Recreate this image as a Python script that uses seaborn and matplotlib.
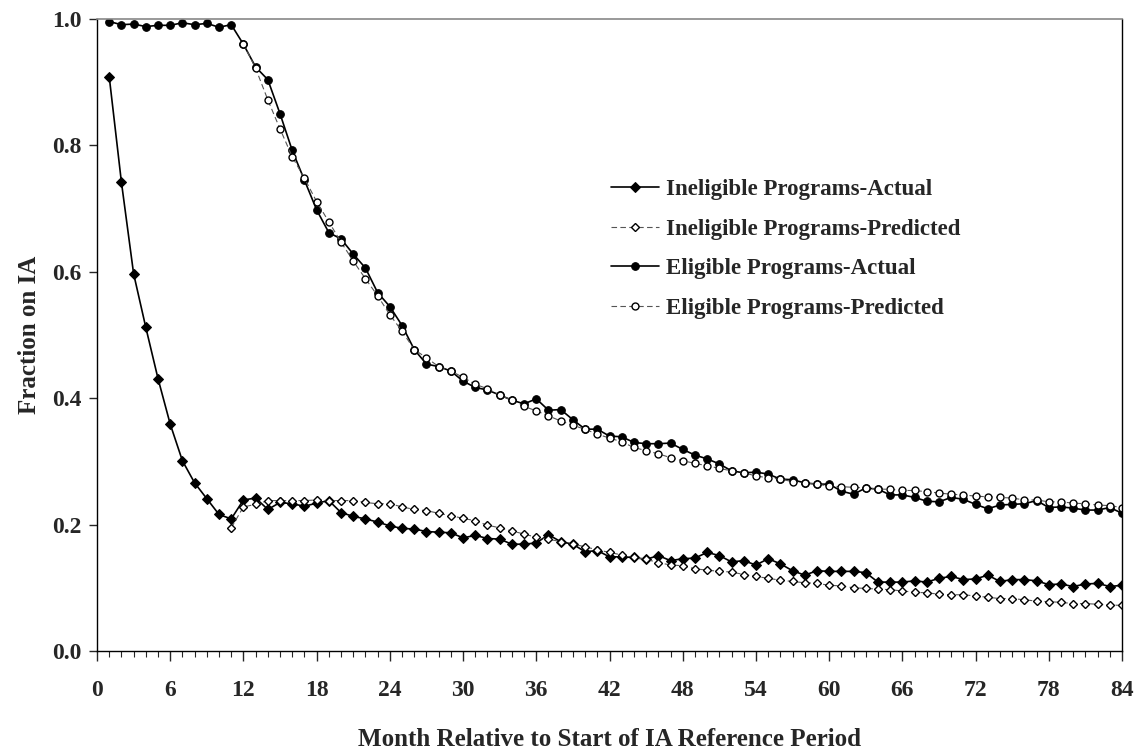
import numpy as np
import pandas as pd
import matplotlib
matplotlib.use("Agg")
import matplotlib.pyplot as plt
from matplotlib.ticker import MultipleLocator, FormatStrFormatter
import seaborn as sns

# values
months_all = list(range(1, 85))

inel_actual = [0.909, 0.742, 0.597, 0.512, 0.431, 0.359, 0.301, 0.266, 0.241, 0.216,
               0.209, 0.239, 0.242, 0.224, 0.235, 0.233, 0.229, 0.234, 0.238, 0.219,
               0.213, 0.209, 0.204, 0.198, 0.194, 0.193, 0.189, 0.188, 0.187, 0.179,
               0.183, 0.178, 0.177, 0.169, 0.169, 0.171, 0.184, 0.173, 0.169, 0.157,
               0.159, 0.149, 0.149, 0.148, 0.145, 0.151, 0.143, 0.146, 0.147, 0.156,
               0.151, 0.141, 0.143, 0.136, 0.146, 0.138, 0.127, 0.120, 0.127, 0.126,
               0.126, 0.126, 0.124, 0.109, 0.109, 0.109, 0.111, 0.109, 0.115, 0.118,
               0.113, 0.114, 0.120, 0.110, 0.113, 0.113, 0.111, 0.105, 0.106, 0.102,
               0.106, 0.107, 0.102, 0.104]

months_inel_pred = list(range(11, 85))
inel_pred = [0.195, 0.228, 0.232, 0.238, 0.238, 0.238, 0.238, 0.239, 0.238, 0.238,
             0.238, 0.235, 0.233, 0.233, 0.228, 0.224, 0.222, 0.218, 0.214, 0.210,
             0.206, 0.199, 0.195, 0.190, 0.185, 0.180, 0.177, 0.173, 0.169, 0.165,
             0.160, 0.156, 0.152, 0.148, 0.145, 0.140, 0.136, 0.135, 0.130, 0.128,
             0.126, 0.125, 0.121, 0.118, 0.115, 0.112, 0.110, 0.108, 0.107, 0.104,
             0.103, 0.100, 0.099, 0.098, 0.097, 0.095, 0.093, 0.092, 0.090, 0.089,
             0.089, 0.087, 0.085, 0.083, 0.083, 0.081, 0.079, 0.078, 0.077, 0.075,
             0.075, 0.074, 0.073, 0.072]

el_actual = [0.996, 0.991, 0.992, 0.988, 0.990, 0.990, 0.994, 0.991, 0.993, 0.987,
             0.991, 0.960, 0.924, 0.904, 0.850, 0.792, 0.745, 0.698, 0.662, 0.652,
             0.628, 0.606, 0.567, 0.545, 0.515, 0.477, 0.454, 0.450, 0.443, 0.427,
             0.417, 0.413, 0.405, 0.397, 0.391, 0.399, 0.381, 0.382, 0.366, 0.351,
             0.351, 0.340, 0.339, 0.330, 0.328, 0.328, 0.329, 0.319, 0.310, 0.304,
             0.296, 0.285, 0.282, 0.283, 0.280, 0.272, 0.271, 0.266, 0.264, 0.264,
             0.253, 0.248, 0.258, 0.256, 0.247, 0.247, 0.243, 0.237, 0.236, 0.243,
             0.240, 0.232, 0.225, 0.231, 0.232, 0.233, 0.238, 0.227, 0.228, 0.226,
             0.223, 0.223, 0.227, 0.218]

months_el_pred = list(range(12, 85))
el_pred = [0.961, 0.922, 0.872, 0.826, 0.782, 0.748, 0.711, 0.679, 0.647,
           0.617, 0.589, 0.562, 0.532, 0.506, 0.477, 0.464, 0.450, 0.443, 0.433,
           0.422, 0.415, 0.405, 0.397, 0.387, 0.380, 0.372, 0.364, 0.357, 0.351,
           0.343, 0.337, 0.331, 0.322, 0.317, 0.312, 0.306, 0.301, 0.297, 0.293,
           0.289, 0.285, 0.282, 0.277, 0.274, 0.272, 0.268, 0.266, 0.264, 0.261,
           0.260, 0.259, 0.258, 0.256, 0.256, 0.254, 0.254, 0.252, 0.250, 0.248,
           0.247, 0.245, 0.244, 0.243, 0.242, 0.239, 0.239, 0.236, 0.236, 0.234,
           0.233, 0.231, 0.230, 0.227]

sns.set_style("ticks")
plt.rcParams['font.family'] = ['Liberation Serif', 'DejaVu Serif']
plt.rcParams['font.weight'] = 'bold'
plt.rcParams['axes.labelweight'] = 'bold'

fig = plt.figure(figsize=(11.41, 7.49), dpi=100)
ax = fig.add_axes([97 / 1141, 1 - 651 / 749, 1025 / 1141, 632 / 749])

sns.lineplot(x=months_all, y=inel_actual, ax=ax, color='black', linewidth=1.2,
             marker='D', markersize=5.5, markeredgecolor='black',
             label='Ineligible Programs-Actual')
sns.lineplot(x=months_inel_pred, y=inel_pred, ax=ax, color='#555555', linewidth=0.8,
             linestyle=(0, (5, 3)), marker='D', markersize=4.2, markerfacecolor='white',
             markeredgecolor='black', markeredgewidth=1.0,
             label='Ineligible Programs-Predicted')
sns.lineplot(x=months_all, y=el_actual, ax=ax, color='black', linewidth=1.2,
             marker='o', markersize=5.5, markeredgecolor='black',
             label='Eligible Programs-Actual')
sns.lineplot(x=months_el_pred, y=el_pred, ax=ax, color='#555555', linewidth=0.8,
             linestyle=(0, (5, 3)), marker='o', markersize=5, markerfacecolor='white',
             markeredgecolor='black', markeredgewidth=1.0,
             label='Eligible Programs-Predicted')

ax.set_xlim(0, 84)
ax.set_ylim(0, 1.0)
ax.xaxis.set_major_locator(MultipleLocator(6))
ax.xaxis.set_minor_locator(MultipleLocator(1))
ax.yaxis.set_major_locator(MultipleLocator(0.2))
ax.yaxis.set_major_formatter(FormatStrFormatter('%.1f'))
ax.tick_params(axis='x', which='major', direction='out', length=7, width=1,
               labelsize=17, pad=14)
ax.tick_params(axis='x', which='minor', direction='out', length=4, width=0.8)
ax.tick_params(axis='y', which='major', direction='out', length=6, width=1,
               labelsize=17, pad=5)

for side in ['left', 'bottom', 'right']:
    ax.spines[side].set_color('black')
    ax.spines[side].set_linewidth(1.0)
ax.spines['top'].set_color('#888888')
ax.spines['top'].set_linewidth(1.2)
ax.spines['right'].set_visible(True)
ax.spines['top'].set_visible(True)

ax.set_xlabel('Month Relative to Start of IA Reference Period', fontsize=18,
              fontweight='bold', labelpad=19)
ax.set_ylabel('Fraction on IA', fontsize=18, fontweight='bold', labelpad=8)

ax.legend(frameon=False, loc='upper left', bbox_to_anchor=(0.5015, 0.747),
          borderpad=0, borderaxespad=0, handlelength=2.1, handletextpad=0.3,
          labelspacing=0.81, prop={'size': 16.5, 'weight': 'bold'})

fig.savefig('out.png', dpi=100)
